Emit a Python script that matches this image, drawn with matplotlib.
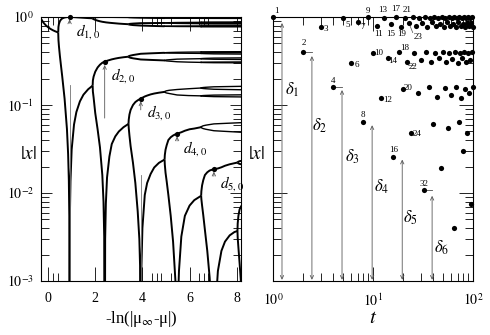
import matplotlib
matplotlib.use("Agg")
import matplotlib.pyplot as plt
from matplotlib.ticker import FixedLocator, LogLocator, NullFormatter

plt.rcParams["font.family"] = ["Liberation Serif", "DejaVu Serif"]
plt.rcParams["mathtext.fontset"] = "stix"

DIP = 1e-6  # stands for |x| = 0 on the log axis

# ---- left panel: branches of |x| against s = -ln(mu_inf - mu) ----
s_a = [-0.3, -0.2, -0.1, 0.0, 0.1, 0.2, 0.3, 0.43]
fix_a = [0.954, 0.865, 0.807, 0.765, 0.733, 0.708, 0.688, 0.667]

s_b = [0.43, 0.44, 0.46, 0.5, 0.55, 0.6, 0.7, 0.8, 0.85, 0.88, 0.9, 0.913,
       0.93, 0.95, 1.0, 1.1, 1.2, 1.35, 1.5, 1.7, 1.89]
up_b = [0.667, 0.772, 0.833, 0.895, 0.937, 0.962, 0.987, 0.997, 0.999, 1.0,
        1.0, 1.0, 1.0, 0.999, 0.999, 0.996, 0.992, 0.986, 0.980, 0.972, 0.966]
lo_b = [0.667, 0.549, 0.467, 0.363, 0.276, 0.211, 0.118, 0.0533, 0.0277,
        0.0140, 0.0055, DIP, 0.0065, 0.0137, 0.0312, 0.060, 0.0832, 0.110,
        0.131, 0.151, 0.166]

s_c = [1.89, 1.9, 1.93, 2.0, 2.1, 2.2, 2.3, 2.35, 2.38, 2.40, 2.42, 2.45,
       2.5, 2.6, 2.7, 2.85, 3.0, 3.2, 3.41]
lines_c = [
    [0.966, 0.975, 0.982, 0.992, 0.996, 0.999, 1.0, 1.0, 1.0, 1.0, 1.0, 1.0,
     1.0, 0.999, 0.999, 0.998, 0.997, 0.996, 0.995],
    [0.966, 0.955, 0.945, 0.928, 0.909, 0.894, 0.882, 0.878, 0.875, 0.874,
     0.872, 0.869, 0.866, 0.860, 0.855, 0.848, 0.841, 0.834, 0.828],
    [0.166, 0.19, 0.21, 0.239, 0.267, 0.287, 0.302, 0.307, 0.309, 0.311,
     0.313, 0.315, 0.318, 0.324, 0.330, 0.337, 0.343, 0.349, 0.354],
    [0.166, 0.142, 0.122, 0.081, 0.053, 0.033, 0.016, 0.008, 0.0032, DIP,
     0.003, 0.0076, 0.015, 0.026, 0.036, 0.044, 0.050, 0.056, 0.061],
]

s_d = [3.41, 3.42, 3.45, 3.5, 3.6, 3.7, 3.8, 3.87, 3.9, 3.93, 3.96, 4.0, 4.1,
       4.2, 4.35, 4.5, 4.7, 4.94]
lines_d = [
    [0.061, 0.068, 0.078, 0.088, 0.100, 0.108, 0.113, 0.116, 0.117, 0.118,
     0.119, 0.121, 0.125, 0.128, 0.132, 0.135, 0.138, 0.141],
    [0.061, 0.055, 0.045, 0.034, 0.022, 0.013, 0.0062, 0.003, 0.0015, DIP,
     0.0015, 0.004, 0.0095, 0.013, 0.0165, 0.0195, 0.022, 0.024],
]
s_d_band = [3.41, 3.43, 3.49, 3.61, 3.93, 4.4, 4.94]
band_d = [
    [0.995, 0.997, 0.998, 0.9995, 1.0, 0.9998, 0.9993],
    [0.995, 0.993, 0.990, 0.986, 0.981, 0.976, 0.972],
    [0.828, 0.833, 0.837, 0.842, 0.851, 0.853, 0.856],
    [0.828, 0.822, 0.816, 0.809, 0.799, 0.792, 0.785],
    [0.354, 0.360, 0.364, 0.370, 0.382, 0.387, 0.392],
    [0.354, 0.349, 0.344, 0.339, 0.329, 0.325, 0.321],
]

s_e = [4.94, 4.95, 4.98, 5.03, 5.1, 5.2, 5.3, 5.4, 5.44, 5.47, 5.5, 5.55,
       5.65, 5.8, 6.0, 6.2, 6.49]
lines_e = [
    [0.024, 0.027, 0.031, 0.035, 0.040, 0.043, 0.045, 0.0465, 0.0467, 0.0468,
     0.0473, 0.048, 0.049, 0.051, 0.053, 0.054, 0.056],
    [0.024, 0.021, 0.017, 0.0135, 0.0095, 0.0055, 0.0028, 0.001, 0.0004, DIP,
     0.0005, 0.0013, 0.0032, 0.0055, 0.0072, 0.0083, 0.0093],
]
s_e_band = [4.94, 4.96, 5.02, 5.14, 5.47, 5.95, 6.49]
band_e = [
    [0.9993, 0.9995, 0.9997, 0.9998, 1.0, 0.9999, 0.9999],
    [0.9993, 0.999, 0.9984, 0.9978, 0.997, 0.9965, 0.996],
    [0.972, 0.9728, 0.9736, 0.9744, 0.976, 0.9765, 0.977],
    [0.972, 0.9712, 0.9704, 0.9696, 0.968, 0.967, 0.966],
    [0.856, 0.858, 0.860, 0.862, 0.866, 0.868, 0.870],
    [0.856, 0.854, 0.852, 0.850, 0.846, 0.843, 0.840],
    [0.785, 0.786, 0.787, 0.7875, 0.789, 0.790, 0.791],
    [0.785, 0.784, 0.783, 0.7825, 0.780, 0.779, 0.778],
    [0.392, 0.393, 0.394, 0.395, 0.397, 0.399, 0.400],
    [0.392, 0.391, 0.390, 0.389, 0.388, 0.387, 0.386],
    [0.321, 0.323, 0.325, 0.327, 0.332, 0.334, 0.336],
    [0.321, 0.319, 0.317, 0.315, 0.310, 0.307, 0.305],
    [0.141, 0.143, 0.145, 0.147, 0.150, 0.153, 0.156],
    [0.141, 0.139, 0.137, 0.135, 0.130, 0.128, 0.127],
]

s_f = [6.49, 6.5, 6.53, 6.58, 6.65, 6.75, 6.85, 6.95, 7.0, 7.03, 7.06, 7.1,
       7.2, 7.35, 7.5, 7.7, 7.9, 8.03]
lines_f = [
    [0.0093, 0.0105, 0.0122, 0.014, 0.016, 0.0172, 0.018, 0.0184, 0.0185,
     0.0186, 0.0187, 0.0188, 0.019, 0.0196, 0.0204, 0.0212, 0.0218, 0.0222],
    [0.0093, 0.0085, 0.0072, 0.0056, 0.0038, 0.0022, 0.0011, 0.0004, 0.00015,
     DIP, 0.00015, 0.0005, 0.0013, 0.0022, 0.0028, 0.0033, 0.0036, 0.0037],
]
s_f_band = [6.49, 6.51, 6.57, 6.69, 7.03, 7.6, 8.2]
band_f = [
    [0.9999, 0.9999, 0.9999, 0.9999, 1.0, 1.0, 1.0],
    [0.996, 0.996, 0.996, 0.996, 0.9962, 0.9962, 0.9962],
    [0.977, 0.9773, 0.9776, 0.978, 0.9785, 0.979, 0.979],
    [0.977, 0.9767, 0.9764, 0.976, 0.9755, 0.975, 0.975],
    [0.966, 0.9663, 0.9666, 0.967, 0.9675, 0.968, 0.968],
    [0.966, 0.9657, 0.9654, 0.965, 0.9645, 0.964, 0.964],
    [0.870, 0.871, 0.872, 0.873, 0.875, 0.876, 0.877],
    [0.870, 0.869, 0.868, 0.867, 0.865, 0.864, 0.863],
    [0.840, 0.841, 0.842, 0.843, 0.845, 0.846, 0.847],
    [0.840, 0.839, 0.838, 0.837, 0.835, 0.834, 0.833],
    [0.791, 0.7915, 0.792, 0.7925, 0.7935, 0.794, 0.7945],
    [0.791, 0.7905, 0.790, 0.7895, 0.7885, 0.788, 0.7875],
    [0.778, 0.7785, 0.779, 0.7795, 0.7805, 0.781, 0.7815],
    [0.778, 0.7775, 0.777, 0.7765, 0.7755, 0.775, 0.7745],
    [0.400, 0.4005, 0.401, 0.4015, 0.4025, 0.403, 0.4035],
    [0.400, 0.3995, 0.399, 0.3985, 0.3975, 0.397, 0.3965],
    [0.386, 0.387, 0.388, 0.389, 0.391, 0.392, 0.393],
    [0.386, 0.385, 0.384, 0.383, 0.381, 0.380, 0.379],
    [0.336, 0.337, 0.338, 0.339, 0.341, 0.342, 0.343],
    [0.336, 0.335, 0.334, 0.333, 0.331, 0.330, 0.329],
    [0.305, 0.3055, 0.306, 0.3065, 0.3075, 0.308, 0.3085],
    [0.305, 0.3045, 0.304, 0.3035, 0.3025, 0.302, 0.3015],
    [0.156, 0.157, 0.158, 0.159, 0.161, 0.162, 0.163],
    [0.156, 0.155, 0.154, 0.153, 0.151, 0.150, 0.149],
    [0.127, 0.1275, 0.128, 0.1285, 0.1295, 0.130, 0.1305],
    [0.127, 0.1265, 0.126, 0.1255, 0.1245, 0.124, 0.1235],
    [0.056, 0.057, 0.058, 0.059, 0.061, 0.062, 0.063],
    [0.056, 0.055, 0.054, 0.053, 0.051, 0.050, 0.049],
]
s_g = [8.03, 8.04, 8.07, 8.12, 8.2]
lines_g = [
    [0.0037, 0.0045, 0.0055, 0.0065, 0.0072],
    [0.0037, 0.0031, 0.0024, 0.0016, 0.0008],
    [0.0222, 0.0224, 0.0227, 0.023, 0.0232],
    [0.0222, 0.022, 0.0217, 0.0214, 0.0212],
]

# superstable points d_{n,0}, their small arrows and the labels
d_s = [0.913, 2.40, 3.93, 5.47, 7.03]
d_val = [1.0, 0.311, 0.118, 0.0468, 0.0186]
d_names = ["$d_{1,0}$", "$d_{2,0}$", "$d_{3,0}$", "$d_{4,0}$", "$d_{5,0}$"]
d_arrow_tip = [0.94, 0.285, 0.11, 0.044, 0.0175]
d_arrow_foot = [0.85, 0.071, 0.088, 0.039, 0.0155]
# thin vertical guide lines (s, top |x|)
guide_s = [0.93, 3.95]
guide_top = [0.17, 0.016]

# ---- right panel: |x_t| of the orbit at mu_inf ----
t_vals = list(range(1, 101))
x_t = [1.0, 0.401, 0.7745, 0.1595, 0.9644, 0.303, 0.8713, 0.0638, 0.9943, 0.3852,
       0.7921, 0.1209, 0.9795, 0.3443, 0.8339, 0.0257, 0.9991, 0.3986, 0.7774, 0.1532,
       0.9671, 0.3105, 0.8649, 0.0481, 0.9968, 0.3921, 0.7846, 0.1375, 0.9735, 0.3279,
       0.8493, 0.0107, 0.9998, 0.4006, 0.775, 0.1584, 0.9649, 0.3043, 0.8702, 0.0611,
       0.9947, 0.3864, 0.7908, 0.1238, 0.9785, 0.3415, 0.8366, 0.019, 0.9995, 0.3997,
       0.7761, 0.1561, 0.9659, 0.3071, 0.8678, 0.0552, 0.9957, 0.389, 0.788, 0.13,
       0.9762, 0.3353, 0.8423, 0.004, 1.0, 0.401, 0.7746, 0.1593, 0.9645, 0.3032,
       0.8711, 0.0634, 0.9944, 0.3854, 0.7919, 0.1213, 0.9794, 0.3439, 0.8343, 0.03,
       0.9991, 0.3986, 0.7774, 0.1532, 0.9671, 0.3105, 0.8649, 0.0481, 0.9968, 0.3921,
       0.7846, 0.1375, 0.9735, 0.3279, 0.8493, 0.0075, 0.9999, 0.4008, 0.7748, 0.159]
labelled_t = [1, 9, 13, 17, 21, 3, 5, 7, 11, 15, 19, 23, 2, 6, 10, 14, 18, 22,
              4, 12, 20, 8, 24, 16, 32]
label_offsets = [(2.2, 4.5), (0, 4.5), (-1.2, 5.5), (0, 5.5), (1.2, 6), (3.8, -1.4),
                 (3.8, -4.7), (4, -3.4), (0.7, -6), (0, -7), (0.8, -5.5), (6.5, -10.6),
                 (0.7, 6.5), (4.5, -1.6), (4, 0), (3.6, -2.3), (4.8, 3), (4.4, -3.8),
                 (0, 4.5), (4.6, -1.6), (3.8, 0.5), (0, 5.2), (4.5, -1), (0, 5), (0, 4.5)]

delta_t = [1.23, 2.45, 4.9, 9.8, 19.6, 39.0]
delta_top = [0.855, 0.36, 0.148, 0.059, 0.024, 0.0093]
delta_lbl = ["$\\delta_1$", "$\\delta_2$", "$\\delta_3$", "$\\delta_4$",
             "$\\delta_5$", "$\\delta_6$"]
delta_lbl_t = [1.55, 2.95, 6.2, 12.3, 23.4, 49.0]
delta_lbl_y = [0.15, 0.058, 0.0256, 0.0117, 0.0052, 0.0024]
bar_t = [2, 4, 32]
bar_end = [2.45, 4.9, 39.0]

fig = plt.figure(figsize=(4.9, 3.35), dpi=100)
ax1 = fig.add_axes([41 / 490, 54 / 335, 200 / 490, 264 / 335])
ax2 = fig.add_axes([273 / 490, 54 / 335, 200 / 490, 264 / 335])

main_kw = dict(color="black", lw=1.4, solid_capstyle="butt")
band_kw = dict(color="black", lw=1.0)
ax1.plot(s_a, fix_a, **main_kw)
ax1.plot(s_b, up_b, **main_kw)
ax1.plot(s_b, lo_b, **main_kw)
for ys in lines_c:
    ax1.plot(s_c, ys, **main_kw)
for ys in lines_d:
    ax1.plot(s_d, ys, **main_kw)
for ys in band_d:
    ax1.plot(s_d_band, ys, **main_kw)
for ys in lines_e:
    ax1.plot(s_e, ys, **main_kw)
for ys in band_e:
    ax1.plot(s_e_band, ys, **band_kw)
for ys in lines_f:
    ax1.plot(s_f, ys, **main_kw)
for ys in band_f:
    ax1.plot(s_f_band, ys, **band_kw)
for ys in lines_g:
    ax1.plot(s_g, ys, **main_kw)

for s, top in zip(guide_s, guide_top):
    ax1.plot([s, s], [1e-3, top], color="0.45", lw=0.6)

ax1.scatter(d_s, d_val, s=14, color="black", zorder=5, clip_on=False, lw=0)
for s, v, name, tip, foot in zip(d_s, d_val, d_names, d_arrow_tip, d_arrow_foot):
    ax1.annotate("", xy=(s, tip), xytext=(s, foot),
                 arrowprops=dict(arrowstyle="->,head_length=0.25,head_width=0.12",
                                 color="0.35", lw=0.6, shrinkA=0, shrinkB=0))
    ax1.annotate(name, xy=(s, v), xytext=(4.5, -3.5), textcoords="offset points",
                 fontsize=11, ha="left", va="top")

ax1.set_yscale("log")
ax1.set_xlim(-0.3, 8.18)
ax1.set_ylim(1e-3, 1)
ax1.set_xticks([0, 2, 4, 6, 8])
ax1.xaxis.set_minor_locator(FixedLocator([0.2, 0.4, 4.4, 4.6, 4.8, 5.2, 6.4, 6.6, 6.8]))
ax1.yaxis.set_major_locator(FixedLocator([1e-3, 1e-2, 1e-1, 1]))
ax1.yaxis.set_minor_locator(LogLocator(base=10, subs=range(2, 10)))
ax1.yaxis.set_minor_formatter(NullFormatter())
ax1.set_yticklabels(["$10^{-3}$", "$10^{-2}$", "$10^{-1}$", "$10^{0}$"])
ax1.set_xlabel("-ln(|\u03bc$_\\infty$-\u03bc|)", fontsize=12, labelpad=3)
ax1.text(-0.06, 0.48, "$|x|$", transform=ax1.transAxes, fontsize=14,
         ha="center", va="center")

ax2.scatter(t_vals, x_t, s=14, color="black", zorder=5, clip_on=False, lw=0)
for t, (dx, dy) in zip(labelled_t, label_offsets):
    ax2.annotate(str(t), xy=(t, x_t[t - 1]), xytext=(dx, dy),
                 textcoords="offset points", fontsize=6.5, ha="center",
                 va="center")
# leader line for 23 and underline for 22
ax2.annotate("", xy=(23, 0.84), xytext=(25.6, 0.62),
             arrowprops=dict(arrowstyle="-", color="0.3", lw=0.5))
ax2.plot([22.5, 25.5], [0.283, 0.283], color="0.3", lw=0.5)

for t, top in zip(delta_t, delta_top):
    ax2.annotate("", xy=(t, 1.03e-3), xytext=(t, top),
                 arrowprops=dict(arrowstyle="<->,head_length=0.25,head_width=0.12",
                                 color="0.35", lw=0.6, shrinkA=0, shrinkB=0))
for lbl, lt, ly in zip(delta_lbl, delta_lbl_t, delta_lbl_y):
    ax2.text(lt, ly, lbl, fontsize=12, ha="center", va="center")
for t, end in zip(bar_t, bar_end):
    v = x_t[t - 1]
    ax2.plot([t, end], [v, v], color="0.3", lw=0.6)

ax2.set_xscale("log")
ax2.set_yscale("log")
ax2.set_xlim(1, 100)
ax2.set_ylim(1e-3, 1)
ax2.xaxis.set_major_locator(FixedLocator([1, 10, 100]))
ax2.set_xticklabels(["$10^{0}$", "$10^{1}$", "$10^{2}$"])
ax2.xaxis.set_minor_locator(LogLocator(base=10, subs=range(2, 10)))
ax2.xaxis.set_minor_formatter(NullFormatter())
ax2.yaxis.set_minor_locator(LogLocator(base=10, subs=range(2, 10)))
ax2.yaxis.set_minor_formatter(NullFormatter())
ax2.set_yticklabels([])
ax2.set_xlabel("$t$", fontsize=15, labelpad=0)
ax2.text(-0.08, 0.48, "$|x|$", transform=ax2.transAxes, fontsize=14,
         ha="center", va="center")

for ax in (ax1, ax2):
    for sp in ax.spines.values():
        sp.set_linewidth(0.8)
    ax.tick_params(which="both", direction="in", top=True, right=True,
                   width=0.6, labelsize=10)
    ax.tick_params(which="major", length=10)
    ax.tick_params(which="minor", length=6)
    ax.tick_params(axis="x", which="both", pad=8)
ax1.tick_params(axis="y", which="major", length=8, pad=5)

fig.savefig("out.png", dpi=100)
